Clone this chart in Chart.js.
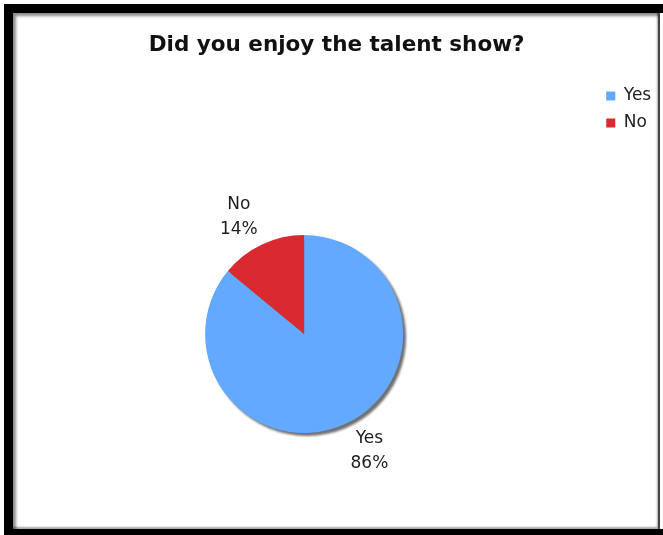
<!DOCTYPE html>
<html>
<head>
<meta charset="utf-8">
<script src="https://cdn.jsdelivr.net/npm/chart.js@4/dist/chart.umd.min.js"></script>
<style>
  html, body { margin: 0; padding: 0; background: #fff; }
  #wrap { position: relative; width: 663px; height: 535px; overflow: hidden; }
  #c { position: absolute; left: 0; top: 0; }
  .bar { position: absolute; background: #000; }
  #shade { position: absolute; left: 13px; top: 13px; width: 645px; height: 516px;
           box-shadow: inset 3px 3px 3px rgba(0,0,0,0.45), inset -1px -2px 2px rgba(0,0,0,0.35); pointer-events: none; }
</style>
</head>
<body>
<div id="wrap">
  <canvas id="c" width="663" height="535"></canvas>
  <div class="bar" style="left:4px;top:4px;width:659px;height:9px;"></div>
  <div class="bar" style="left:4px;top:4px;width:9px;height:531px;"></div>
  <div class="bar" style="left:4px;top:529px;width:659px;height:6px;"></div>
  <div class="bar" style="left:658px;top:13px;width:2px;height:516px;background:#444;"></div>
  <div id="shade"></div>
</div>
<script>
const titleText = 'Did you enjoy the talent show?';
const categories = ['Yes', 'No'];
const percentValues = [86, 14];
const sliceColors = ['#62A9FF', '#DA2930'];

const shadowPlugin = {
  id: 'pieShadow',
  beforeDatasetsDraw(chart) {
    const arc = chart.getDatasetMeta(0).data[0];
    if (!arc) return;
    const p = arc.getProps(['x', 'y', 'outerRadius'], true);
    const ctx = chart.ctx;
    ctx.save();
    ctx.filter = 'blur(1px)';
    ctx.fillStyle = 'rgba(105,105,105,0.95)';
    ctx.beginPath();
    ctx.arc(p.x + 3, p.y + 3, p.outerRadius, 0, Math.PI * 2);
    ctx.fill();
    ctx.restore();
  }
};

const outsideLabels = {
  id: 'outsideLabels',
  afterDatasetsDraw(chart) {
    const ctx = chart.ctx;
    const ds = chart.data.datasets[0];
    const total = ds.data.reduce((a, b) => a + b, 0);
    const meta = chart.getDatasetMeta(0);
    ctx.save();
    ctx.font = '17px "DejaVu Sans", Verdana, sans-serif';
    ctx.fillStyle = '#1e1e1e';
    ctx.textAlign = 'center';
    ctx.textBaseline = 'middle';
    const lineGap = 25, halfH = 18, gap = 10;
    meta.data.forEach((arc, i) => {
      const p = arc.getProps(['x', 'y', 'startAngle', 'endAngle', 'outerRadius'], true);
      const mid = (p.startAngle + p.endAngle) / 2;
      const cos = Math.cos(mid), sin = Math.sin(mid);
      const ax = p.x + (p.outerRadius + gap) * cos;
      const ay = p.y + (p.outerRadius + gap) * sin;
      const lines = [chart.data.labels[i], Math.round(ds.data[i] / total * 100) + '%'];
      const w = Math.max(...lines.map(t => ctx.measureText(t).width));
      const cx = ax + Math.sign(cos) * w / 2;
      const cy = ay + Math.sign(sin) * halfH;
      ctx.fillText(lines[0], cx, cy - lineGap / 2);
      ctx.fillText(lines[1], cx, cy + lineGap / 2);
    });
    ctx.restore();
  }
};

new Chart(document.getElementById('c'), {
  type: 'pie',
  data: {
    labels: categories,
    datasets: [{
      data: percentValues,
      backgroundColor: sliceColors,
      borderWidth: 0,
      radius: 99
    }]
  },
  options: {
    responsive: false,
    animation: false,
    events: [],
    layout: { padding: { left: 12, right: 1.8, top: 13, bottom: 10 } },
    plugins: {
      title: {
        display: true,
        text: titleText,
        color: '#111',
        font: { family: '"DejaVu Sans", Verdana, sans-serif', size: 21.5, weight: 'bold', lineHeight: 1.2 },
        padding: { top: 19.1, bottom: 85.1 }
      },
      legend: {
        display: true,
        position: 'right',
        align: 'start',
        title: { display: true, text: '', font: { size: 10, lineHeight: 1.2 }, padding: { top: 52.5, bottom: 0 } },
        labels: {
          boxWidth: 9,
          boxHeight: 9,
          padding: 10,
          color: '#222',
          font: { family: '"DejaVu Sans", Verdana, sans-serif', size: 17 }
        }
      },
      tooltip: { enabled: false }
    }
  },
  plugins: [shadowPlugin, outsideLabels]
});
</script>
</body>
</html>
